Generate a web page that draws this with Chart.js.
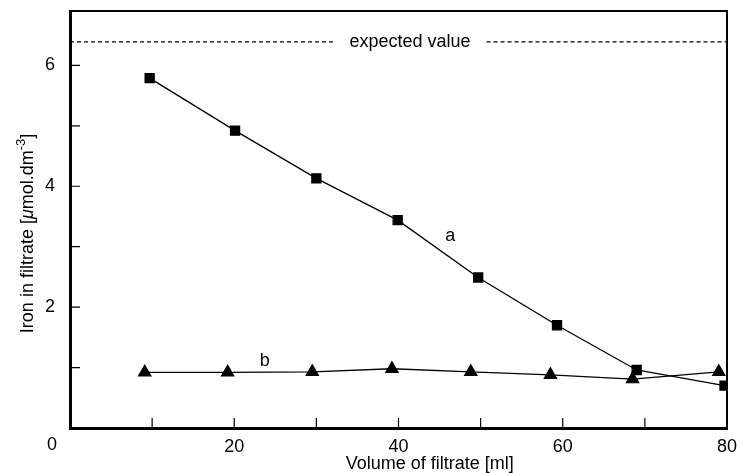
<!DOCTYPE html>
<html lang="en">
<head>
  <meta charset="UTF-8">
  <script src="https://cdn.jsdelivr.net/npm/chart.js"></script>
  <style>
    body, html {
      margin: 0;
      padding: 0;
      background: white;
    }
    .chart-box {
      width: 742px;
      height: 473px;
    }
  </style>
</head>
<body>
  <div class="chart-box">
    <canvas id="ironChart" width="742" height="473"></canvas>
  </div>
  <script>
    // curve a (squares)
    const volumeA = [9.7, 20.1, 30.0, 39.9, 49.7, 59.3, 69.0, 79.7];
    const ironA = [5.79, 4.92, 4.13, 3.44, 2.49, 1.70, 0.96, 0.70];
    // curve b (triangles)
    const volumeB = [9.1, 19.2, 29.5, 39.2, 48.8, 58.5, 68.5, 79.0];
    const ironB = [0.92, 0.92, 0.93, 0.98, 0.93, 0.88, 0.81, 0.93];
    // dashed reference line
    const expectedValue = 6.39;
    const expectedText = 'expected value';
    const expectedTextX = 41.4;
    // curve labels, in data units
    const curveLabels = [
      { text: 'a', x: 46.3, y: 3.18 },
      { text: 'b', x: 23.7, y: 1.10 }
    ];
    const xTickLabels = [20, 40, 60, 80];
    const yTickLabels = [2, 4, 6];

    const FONT = '"Liberation Sans", Arial, sans-serif';

    function toPoints(xs, ys) {
      return xs.map((x, i) => ({ x: x, y: ys[i] }));
    }

    // frame, inward ticks, reference line and text
    const decorations = {
      id: 'decorations',
      afterDraw(chart) {
        const ctx = chart.ctx;
        const area = chart.chartArea;
        const xs = chart.scales.x;
        const ys = chart.scales.y;
        ctx.save();
        ctx.strokeStyle = '#000';
        ctx.fillStyle = '#000';

        // top and right edges of the frame
        ctx.lineWidth = 2;
        ctx.beginPath();
        ctx.moveTo(area.left - 1, area.top);
        ctx.lineTo(area.right, area.top);
        ctx.lineTo(area.right, area.bottom + 1);
        ctx.stroke();

        // inward ticks
        ctx.lineWidth = 1.2;
        ctx.beginPath();
        for (let v = 10; v < 80; v += 10) {
          const px = xs.getPixelForValue(v);
          ctx.moveTo(px, area.bottom);
          ctx.lineTo(px, area.bottom - 10);
        }
        for (let v = 1; v <= 6; v++) {
          const py = ys.getPixelForValue(v);
          ctx.moveTo(area.left, py);
          ctx.lineTo(area.left + 10, py);
        }
        ctx.stroke();

        // expected value line with text gap
        ctx.font = '18px ' + FONT;
        const ey = ys.getPixelForValue(expectedValue);
        const tx = xs.getPixelForValue(expectedTextX);
        const tw = ctx.measureText(expectedText).width;
        ctx.lineWidth = 1.3;
        ctx.setLineDash([4, 3]);
        ctx.beginPath();
        ctx.moveTo(area.left, ey);
        ctx.lineTo(tx - tw / 2 - 16, ey);
        ctx.moveTo(tx + tw / 2 + 16, ey);
        ctx.lineTo(area.right, ey);
        ctx.stroke();
        ctx.setLineDash([]);
        ctx.textAlign = 'center';
        ctx.textBaseline = 'middle';
        ctx.fillText(expectedText, tx, ey);

        // curve labels
        curveLabels.forEach(l => {
          ctx.fillText(l.text, xs.getPixelForValue(l.x), ys.getPixelForValue(l.y));
        });

        // shared origin label
        ctx.fillText('0', area.left - 18, area.bottom + 17);

        // x title
        ctx.fillText('Volume of filtrate [ml]', xs.getPixelForValue(43.8), area.bottom + 36);

        // y title with superscript
        ctx.translate(28, ys.getPixelForValue(3.22));
        ctx.rotate(-Math.PI / 2);
        const parts = [
          { t: 'Iron in filtrate [', f: '18px ' + FONT, dy: 0 },
          { t: 'μ', f: 'italic 18px ' + FONT, dy: 0 },
          { t: 'mol.dm', f: '18px ' + FONT, dy: 0 },
          { t: '-3', f: '13px ' + FONT, dy: -7 },
          { t: ']', f: '18px ' + FONT, dy: 0 }
        ];
        let total = 0;
        parts.forEach(p => { ctx.font = p.f; total += ctx.measureText(p.t).width; });
        let cx = -total / 2;
        ctx.textAlign = 'left';
        parts.forEach(p => {
          ctx.font = p.f;
          ctx.fillText(p.t, cx, p.dy);
          cx += ctx.measureText(p.t).width;
        });
        ctx.restore();
      }
    };

    const ctx = document.getElementById('ironChart').getContext('2d');
    new Chart(ctx, {
      type: 'scatter',
      data: {
        datasets: [
          {
            label: 'a',
            data: toPoints(volumeA, ironA),
            showLine: true,
            borderColor: '#000',
            backgroundColor: '#000',
            borderWidth: 1.3,
            pointStyle: 'rect',
            pointRadius: 6.4,
            pointHoverRadius: 6.4
          },
          {
            label: 'b',
            data: toPoints(volumeB, ironB),
            showLine: true,
            borderColor: '#000',
            backgroundColor: '#000',
            borderWidth: 1.3,
            pointStyle: 'triangle',
            pointRadius: 7,
            pointHoverRadius: 7
          }
        ]
      },
      options: {
        responsive: false,
        animation: false,
        layout: { padding: { top: 11, right: 15, left: 0, bottom: 0 } },
        plugins: {
          legend: { display: false },
          tooltip: { enabled: false }
        },
        scales: {
          x: {
            type: 'linear',
            min: 0,
            max: 80,
            grid: { display: false, drawTicks: false, tickLength: 0 },
            border: { display: true, width: 3, color: '#000' },
            afterFit: s => { s.height = 45; s.paddingLeft = 0; s.paddingRight = 0; },
            ticks: {
              stepSize: 10,
              padding: 8,
              color: '#000',
              font: { family: FONT, size: 18 },
              callback: v => xTickLabels.includes(v) ? String(v) : ''
            }
          },
          y: {
            min: 0,
            max: 6.9,
            grid: { display: false, drawTicks: false, tickLength: 0 },
            border: { display: true, width: 3, color: '#000' },
            afterFit: s => { s.width = 70; s.paddingTop = 0; s.paddingBottom = 0; },
            ticks: {
              stepSize: 1,
              padding: 15,
              color: '#000',
              font: { family: FONT, size: 18 },
              callback: v => yTickLabels.includes(v) ? String(v) : ''
            }
          }
        }
      },
      plugins: [decorations]
    });
  </script>
</body>
</html>
